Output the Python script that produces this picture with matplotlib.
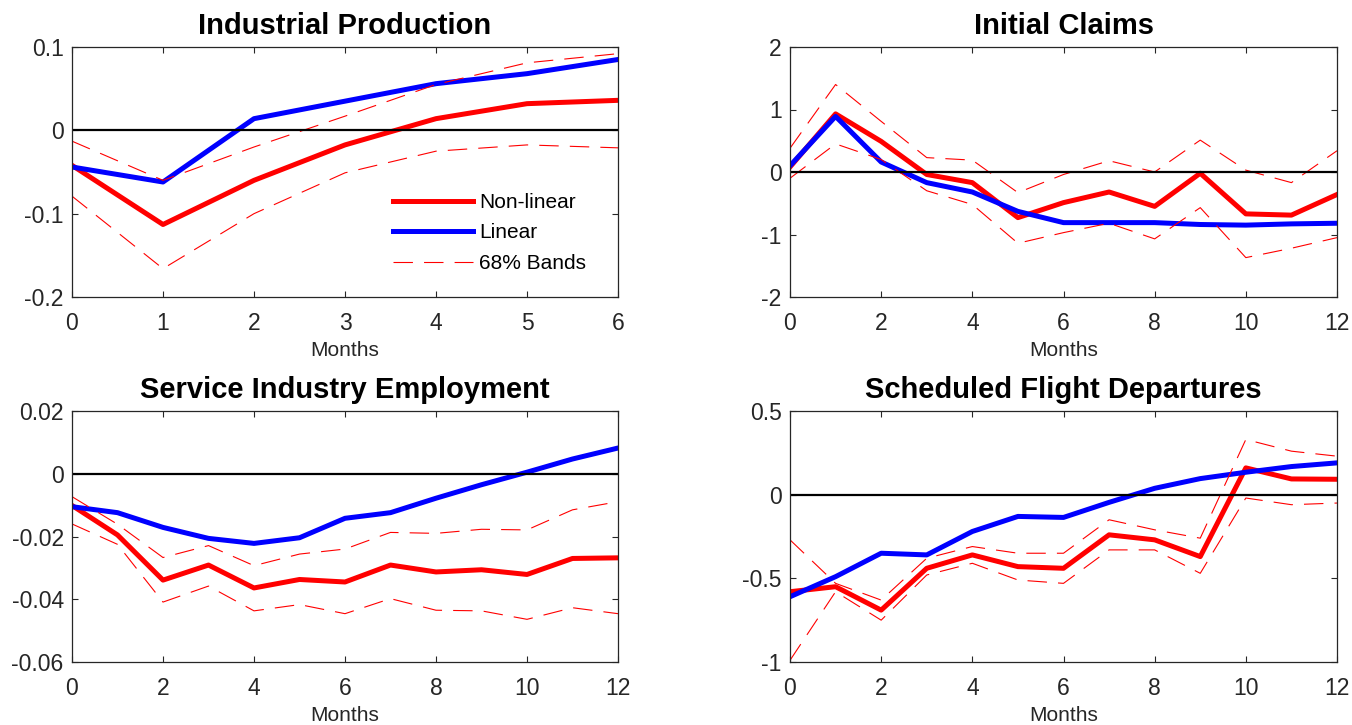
import matplotlib
matplotlib.use("Agg")
import matplotlib.pyplot as plt
import numpy as np

plt.rcParams["font.family"] = ["Liberation Sans", "DejaVu Sans"]
plt.rcParams["lines.scale_dashes"] = False

# ---- impulse responses -------------------------------------------------
months_ip = np.arange(0, 7)
months = np.arange(0, 13)

# Industrial Production
ip_nonlinear = [-0.042, -0.113, -0.060, -0.0175, 0.014, 0.032, 0.036]
ip_linear = [-0.044, -0.062, 0.014, 0.035, 0.056, 0.068, 0.085]
ip_upper = [-0.013, -0.060, -0.020, 0.017, 0.055, 0.081, 0.092]
ip_lower = [-0.079, -0.166, -0.100, -0.051, -0.025, -0.0175, -0.021]

# Initial Claims
ic_nonlinear = [0.08, 0.93, 0.49, -0.04, -0.17, -0.73, -0.49, -0.32, -0.55, -0.02, -0.67, -0.69, -0.36]
ic_linear = [0.10, 0.89, 0.16, -0.17, -0.32, -0.63, -0.81, -0.81, -0.81, -0.84, -0.85, -0.83, -0.82]
ic_upper = [0.38, 1.40, 0.81, 0.23, 0.19, -0.33, -0.04, 0.18, 0.00, 0.51, 0.03, -0.17, 0.34]
ic_lower = [-0.10, 0.45, 0.20, -0.30, -0.52, -1.14, -0.97, -0.82, -1.07, -0.57, -1.37, -1.22, -1.05]

# Service Industry Employment
se_nonlinear = [-0.0101, -0.0195, -0.0339, -0.0291, -0.0364, -0.0337, -0.0345,
                -0.0291, -0.0313, -0.0306, -0.0321, -0.0270, -0.0268]
se_linear = [-0.0105, -0.0124, -0.0171, -0.0206, -0.0222, -0.0204, -0.0142,
             -0.0124, -0.0078, -0.0035, 0.0005, 0.0047, 0.0082]
se_upper = [-0.0073, -0.0161, -0.0267, -0.0229, -0.0293, -0.0256, -0.0240,
            -0.0187, -0.0190, -0.0177, -0.0179, -0.0115, -0.0089]
se_lower = [-0.0160, -0.0225, -0.0409, -0.0358, -0.0437, -0.0417, -0.0446,
            -0.0398, -0.0435, -0.0437, -0.0464, -0.0427, -0.0446]

# Scheduled Flight Departures
fd_nonlinear = [-0.58, -0.55, -0.69, -0.44, -0.36, -0.43, -0.44, -0.24, -0.27, -0.37, 0.16, 0.094, 0.092]
fd_linear = [-0.61, -0.49, -0.35, -0.36, -0.22, -0.13, -0.136, -0.046, 0.038, 0.096, 0.134, 0.168, 0.19]
fd_upper = [-0.27, -0.53, -0.63, -0.38, -0.31, -0.35, -0.35, -0.15, -0.21, -0.26, 0.33, 0.26, 0.23]
fd_lower = [-0.99, -0.58, -0.75, -0.48, -0.41, -0.51, -0.53, -0.33, -0.33, -0.47, -0.02, -0.06, -0.05]

titles = ["Industrial Production", "Initial Claims",
          "Service Industry Employment", "Scheduled Flight Departures"]
ylims = [(-0.2, 0.1), (-2, 2), (-0.06, 0.02), (-1, 0.5)]
yticks = [[-0.2, -0.1, 0, 0.1], [-2, -1, 0, 1, 2],
          [-0.06, -0.04, -0.02, 0, 0.02], [-1, -0.5, 0, 0.5]]
ytick_labels = [["-0.2", "-0.1", "0", "0.1"], ["-2", "-1", "0", "1", "2"],
                ["-0.06", "-0.04", "-0.02", "0", "0.02"], ["-1", "-0.5", "0", "0.5"]]
xticks = [np.arange(0, 7, 1), np.arange(0, 13, 2), np.arange(0, 13, 2), np.arange(0, 13, 2)]
xs = [months_ip, months, months, months]
panels = [
    (ip_nonlinear, ip_linear, ip_upper, ip_lower),
    (ic_nonlinear, ic_linear, ic_upper, ic_lower),
    (se_nonlinear, se_linear, se_upper, se_lower),
    (fd_nonlinear, fd_linear, fd_upper, fd_lower),
]

W, H = 1352, 725
fig = plt.figure(figsize=(W / 100, H / 100), dpi=100)

# axes rectangles in pixels: left, top, right, bottom
rects = [(72, 47, 618, 297), (790, 47, 1337, 297),
         (72, 411, 618, 662), (790, 411, 1337, 662)]

axis_gray = (0.15, 0.15, 0.15)
band_dash = (14, 8)

for i, (l, t, r, b) in enumerate(rects):
    ax = fig.add_axes([l / W, 1 - b / H, (r - l) / W, (b - t) / H])
    x = xs[i]
    nl, lin, up, lo = panels[i]
    h1, = ax.plot(x, nl, color="#ff0000", lw=3.6, label="Non-linear")
    h2, = ax.plot(x, lin, color="#0000ff", lw=3.6, label="Linear")
    h3, = ax.plot(x, up, color="#ff0000", lw=0.8, dashes=band_dash, label="68% Bands")
    ax.plot(x, lo, color="#ff0000", lw=0.8, dashes=band_dash)
    ax.axhline(0, color="k", lw=1.6)

    ax.set_xlim(x[0], x[-1])
    ax.set_ylim(*ylims[i])
    ax.set_xticks(xticks[i])
    ax.set_xticklabels([str(v) for v in xticks[i]])
    ax.set_yticks(yticks[i])
    ax.set_yticklabels(ytick_labels[i])
    ax.tick_params(direction="in", length=4.3, width=0.8, top=True, right=True,
                   labelsize=16.5, colors=axis_gray)
    ax.tick_params(axis="x", pad=11)
    ax.tick_params(axis="y", pad=6)
    for s in ax.spines.values():
        s.set_color(axis_gray)
        s.set_linewidth(0.9)
    ax.set_title(titles[i], fontsize=21, fontweight="bold", pad=9)
    ax.set_xlabel("Months", fontsize=15, color=axis_gray, labelpad=4)

    if i == 0:
        ax.legend(handles=[h1, h2, h3], loc="center left",
                  bbox_to_anchor=((393 - l) / (r - l), (b - 233) / (b - t)),
                  frameon=False, fontsize=15, borderpad=0, borderaxespad=0,
                  handlelength=3.85, handletextpad=0.3, labelspacing=0.55)

fig.savefig("out.png", dpi=100)
